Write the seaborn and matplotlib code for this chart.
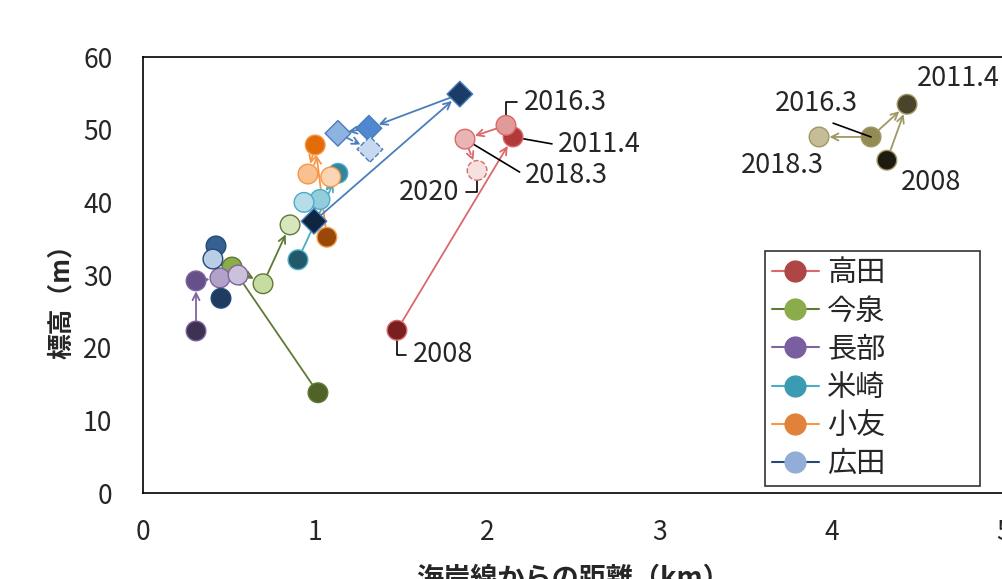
import numpy as np
import pandas as pd
import seaborn as sns
import matplotlib
matplotlib.use("Agg")
from matplotlib import pyplot as plt
from matplotlib.lines import Line2D

years = ["2008", "2011.4", "2016.3", "2018.3", "2020"]

# distance from coast (km) / elevation (m), one entry per survey year
takata_x = [1.475, 2.149, 2.108, 1.870, 1.940]
takata_y = [22.4, 49.0, 50.6, 48.7, 44.4]
imaizumi_x = [1.016, 0.517, 0.697, 0.854]
imaizumi_y = [13.8, 31.1, 28.8, 36.9]
osabe_x = [0.308, 0.308, 0.447, 0.552]
osabe_y = [22.3, 29.2, 29.6, 30.0]
yonesaki_x = [0.900, 1.132, 1.028, 0.935]
yonesaki_y = [32.1, 44.0, 40.4, 40.0]
otomo_x = [1.068, 1.000, 0.958, 1.090]
otomo_y = [35.2, 47.9, 43.9, 43.5]
hirota_x = [0.453, 0.424, 0.406]
hirota_y = [26.8, 34.0, 32.2]
hirota2_x = [0.993, 1.840, 1.312, 1.132, 1.318]
hirota2_y = [37.4, 54.9, 50.2, 49.5, 47.3]
olive_x = [4.320, 4.437, 4.228, 3.926]
olive_y = [45.8, 53.5, 49.0, 49.0]

legend_names = ["高田", "今泉", "長部", "米崎", "小友", "広田"]

sites = [
    # name, x, y, point colours, line colour, marker
    ("高田", takata_x, takata_y, ["#7a1f1f", "#b03a3a", "#e09a9a", "#e8b4b4", "#f6e0e0"], "#d9696a", "o"),
    ("今泉", imaizumi_x, imaizumi_y, ["#4f6228", "#8aac4a", "#c6dca0", "#d8e6be"], "#5f7a34", "o"),
    ("長部", osabe_x, osabe_y, ["#3f3151", "#66508a", "#b3a2c7", "#ccc1da"], "#8064a2", "o"),
    ("米崎", yonesaki_x, yonesaki_y, ["#215968", "#31859c", "#93cddd", "#b7dee8"], "#4bacc6", "o"),
    ("小友", otomo_x, otomo_y, ["#984807", "#e36c09", "#fac090", "#fcd5b5"], "#f79646", "o"),
    ("広田", hirota_x, hirota_y, ["#1f3b5f", "#376092", "#b9cde5"], "#244a78", "o"),
    ("広田2", hirota2_x, hirota2_y, ["#10253f", "#1b3c66", "#4f88d0", "#8db3e2", "#c6d9f1"], "#4a7ebb", "D"),
    ("olive", olive_x, olive_y, ["#1d1b10", "#4a452a", "#948a54", "#c4bd97"], "#a09766", "o"),
]

# the olive site: arrows run into 2011.4 from both sides
olive_links = [(0, 1), (2, 1), (2, 3)]

legend_face = ["#b04545", "#8aac4a", "#7a5fa0", "#3a9bb3", "#e0823a", "#93aed6"]
legend_line = ["#d9696a", "#5f7a34", "#8064a2", "#4bacc6", "#f79646", "#244a78"]

rows = []
for name, xs, ys, cols, lc, mk in sites:
    for i in range(len(xs)):
        rows.append(dict(site=name, year=years[i], x=xs[i], y=ys[i], color=cols[i], line=lc, marker=mk))
df = pd.DataFrame(rows)

sns.set_style("white")
plt.rcParams["font.family"] = ["Noto Sans CJK JP", "DejaVu Sans"]

fig = plt.figure(figsize=(10.02, 5.79), dpi=100)
ax = fig.add_axes([0.1427, 0.1485, 0.8593, 0.753])

# connecting arrows
for name, g in df.groupby("site", sort=False):
    g = g.reset_index(drop=True)
    links = olive_links if name == "olive" else [(i, i + 1) for i in range(len(g) - 1)]
    for a, b in links:
        dashed = g.loc[b, "year"] == "2020"
        ax.annotate("", xy=(g.loc[b, "x"], g.loc[b, "y"]),
                    xytext=(g.loc[a, "x"], g.loc[a, "y"]),
                    arrowprops=dict(arrowstyle="->,head_length=0.5,head_width=0.25",
                                    color=g.loc[a, "line"], lw=1.3,
                                    linestyle="--" if dashed else "-",
                                    shrinkA=0, shrinkB=7.5),
                    zorder=2)

# points
for name, g in df.groupby("site", sort=False):
    solid = g[g["year"] != "2020"]
    pal = dict(zip(solid["year"], solid["color"]))
    mk = g["marker"].iloc[0]
    size = 170 if mk == "D" else 200
    sns.scatterplot(data=solid, x="x", y="y", hue="year", palette=pal, marker=mk,
                    s=size, edgecolor=g["line"].iloc[0],
                    linewidth=1.0, legend=False, ax=ax, zorder=4)
    last = g[g["year"] == "2020"]
    if len(last):
        ax.scatter(last["x"], last["y"], s=size, marker=mk,
                   c=last["color"], edgecolors=g["line"].iloc[0], linewidths=1.0,
                   linestyles="--", zorder=4)

# year labels with leader lines
lead = dict(arrowstyle="-", color="black", lw=1.2, shrinkA=2, shrinkB=0)
tk = df[df["site"] == "高田"].set_index("year")
ol = df[df["site"] == "olive"].set_index("year")
fs = 19.5
ax.annotate("2016.3", xy=(tk.loc["2016.3", "x"], tk.loc["2016.3", "y"]), xytext=(2.21, 53.8),
            ha="left", va="center", fontsize=fs,
            arrowprops=dict(lead, connectionstyle="angle,angleA=0,angleB=90", relpos=(0, 0.5)), zorder=3)
ax.annotate("2011.4", xy=(tk.loc["2011.4", "x"], tk.loc["2011.4", "y"]), xytext=(2.41, 47.9),
            ha="left", va="center", fontsize=fs,
            arrowprops=dict(lead, relpos=(0, 0.5)), zorder=3)
ax.annotate("2018.3", xy=(tk.loc["2018.3", "x"], tk.loc["2018.3", "y"]), xytext=(2.22, 43.7),
            ha="left", va="center", fontsize=fs,
            arrowprops=dict(lead, relpos=(0, 0.5)), zorder=3)
ax.annotate("2020", xy=(tk.loc["2020", "x"], tk.loc["2020", "y"]), xytext=(1.84, 41.4),
            ha="right", va="center", fontsize=fs,
            arrowprops=dict(lead, connectionstyle="angle,angleA=0,angleB=90", relpos=(1, 0.5)), zorder=3)
ax.annotate("2008", xy=(tk.loc["2008", "x"], tk.loc["2008", "y"]), xytext=(1.565, 19.0),
            ha="left", va="center", fontsize=fs,
            arrowprops=dict(lead, connectionstyle="angle,angleA=0,angleB=90", relpos=(0, 0.5)), zorder=3)

ax.annotate("2011.4", xy=(ol.loc["2011.4", "x"], ol.loc["2011.4", "y"]), xytext=(4.495, 57.1),
            ha="left", va="center", fontsize=fs)
ax.annotate("2016.3", xy=(ol.loc["2016.3", "x"], ol.loc["2016.3", "y"]), xytext=(3.91, 53.6),
            ha="center", va="center", fontsize=fs,
            arrowprops=dict(lead, relpos=(0.5, 0), shrinkA=6), zorder=5)
ax.annotate("2018.3", xy=(ol.loc["2018.3", "x"], ol.loc["2018.3", "y"]), xytext=(3.71, 45.1),
            ha="center", va="center", fontsize=fs)
ax.annotate("2008", xy=(ol.loc["2008", "x"], ol.loc["2008", "y"]), xytext=(4.575, 42.8),
            ha="center", va="center", fontsize=fs)

ax.set_xlim(0, 5)
ax.set_ylim(0, 60)
ax.set_xticks(range(0, 6))
ax.set_yticks(range(0, 61, 10))
ax.tick_params(axis="x", direction="in", length=10, width=1, pad=19, labelsize=19)
ax.tick_params(axis="y", direction="in", length=10, width=1, pad=22, labelsize=19)
for sp in ax.spines.values():
    sp.set_color("black")
    sp.set_linewidth(1.2)
ax.set_xlabel("海岸線からの距離（km）", fontsize=19.5, fontweight="bold", labelpad=13)
ax.set_ylabel("標高（m）", fontsize=18.5, fontweight="bold")
ax.yaxis.set_label_coords(-0.079, 0.454)

handles = [Line2D([], [], color=legend_line[i], lw=1.5, marker="o", markersize=15,
                  markerfacecolor=legend_face[i], markeredgecolor=legend_face[i])
           for i in range(len(legend_names))]
leg = ax.legend(handles, legend_names, loc="upper left",
                bbox_to_anchor=(0.722, 0.018, 0.25, 0.537), mode="expand",
                fontsize=21, frameon=True, fancybox=False, edgecolor="black",
                labelspacing=0.28, handlelength=1.6, handletextpad=0.3, borderpad=0.25,
                borderaxespad=0)
leg.get_frame().set_linewidth(1.2)
leg.set_zorder(6)

fig.savefig("out.png", dpi=100)
